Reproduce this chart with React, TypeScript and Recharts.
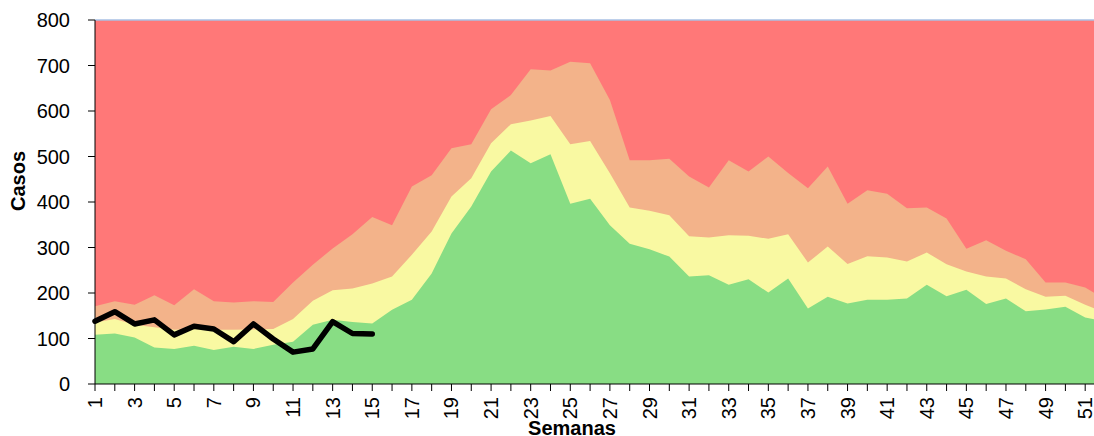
import React from "react";
import {
  Area,
  CartesianGrid,
  ComposedChart,
  Line,
  ReferenceLine,
  XAxis,
  YAxis,
} from "recharts";

// upper limit of each zone of the endemic channel, per epidemiological week
const weeks = Array.from({ length: 52 }, (_, i) => i + 1);
const exito = [
  108, 111, 102, 80, 77, 84, 75, 82, 77, 86, 93, 130, 141, 136, 133, 163, 185,
  243, 331, 390, 467, 513, 485, 505, 396, 407, 349, 308, 296, 280, 236, 239,
  218, 230, 201, 232, 166, 192, 177, 185, 185, 188, 218, 193, 207, 176, 188,
  160, 164, 170, 146, 138,
];
const seguridad = [
  135, 143, 130, 125, 119, 121, 119, 119, 120, 121, 143, 183, 206, 210, 221,
  236, 284, 335, 412, 452, 529, 571, 579, 589, 527, 534, 463, 388, 381, 371,
  325, 322, 327, 326, 319, 329, 267, 302, 264, 281, 278, 269, 289, 263, 247,
  236, 232, 208, 192, 194, 174, 157,
];
const alerta = [
  171, 182, 174, 195, 173, 208, 182, 179, 182, 180, 223, 262, 298, 329, 367,
  349, 434, 459, 518, 527, 604, 635, 692, 689, 708, 705, 624, 492, 492, 495,
  456, 432, 492, 467, 500, 464, 430, 478, 396, 426, 418, 386, 388, 364, 297,
  316, 293, 274, 223, 223, 212, 186,
];
// casos del año en curso (semanas 1-15)
const actual = [138, 159, 132, 141, 108, 127, 121, 93, 132, 99, 70, 77, 137, 111, 110];
const yTicks = [0, 100, 200, 300, 400, 500, 600, 700, 800];

const data = weeks.map((w, i) => ({
  week: w,
  exito: exito[i],
  seguridad: seguridad[i],
  alerta: alerta[i],
  actual: i < actual.length ? actual[i] : null,
}));

const FONT = "'Liberation Sans', Arial, sans-serif";

function WeekTick(props: any) {
  const { x, y, payload } = props;
  if (payload.value % 2 === 0) return <g />;
  return (
    <text
      x={x}
      y={y}
      dy="0.35em"
      transform={`rotate(-90, ${x}, ${y})`}
      textAnchor="end"
      fontSize={20}
      fontFamily={FONT}
      fill="#000"
    >
      {payload.value}
    </text>
  );
}

export default function App() {
  return (
    <div
      style={{
        position: "absolute",
        left: 0,
        top: 0,
        width: 1094,
        height: 436,
        overflow: "hidden",
        background: "#fff",
      }}
    >
      <ComposedChart
        width={1110}
        height={436}
        data={data}
        margin={{ top: 20, right: 5, left: 0, bottom: 0 }}
      >
        <CartesianGrid
          fill="#FF7878"
          fillOpacity={1}
          horizontal={false}
          vertical={false}
          stroke="none"
        />
        <Area
          type="linear"
          dataKey="alerta"
          stroke="none"
          fill="#F3B38A"
          fillOpacity={1}
          isAnimationActive={false}
        />
        <Area
          type="linear"
          dataKey="seguridad"
          stroke="none"
          fill="#F9F9A2"
          fillOpacity={1}
          isAnimationActive={false}
        />
        <Area
          type="linear"
          dataKey="exito"
          stroke="none"
          fill="#88DD84"
          fillOpacity={1}
          isAnimationActive={false}
        />
        <Line
          type="linear"
          dataKey="actual"
          stroke="#000"
          strokeWidth={5.5}
          strokeLinecap="round"
          strokeLinejoin="round"
          dot={false}
          activeDot={false}
          connectNulls={false}
          isAnimationActive={false}
        />
        <ReferenceLine y={800} stroke="#A9C0E4" strokeWidth={1.5} />
        <XAxis
          dataKey="week"
          interval={0}
          height={52}
          tickSize={7}
          tickMargin={6}
          axisLine={{ stroke: "#000" }}
          tickLine={{ stroke: "#000" }}
          tick={<WeekTick />}
          label={{
            content: () => (
              <text
                x={572}
                y={435}
                textAnchor="middle"
                fontSize={20}
                fontWeight="bold"
                fontFamily={FONT}
                fill="#000"
              >
                Semanas
              </text>
            ),
          }}
        />
        <YAxis
          width={95}
          domain={[0, 800]}
          ticks={yTicks}
          allowDataOverflow
          tickSize={7}
          tickMargin={18}
          axisLine={{ stroke: "#000" }}
          tickLine={{ stroke: "#000" }}
          tick={{ fontSize: 20, fontFamily: FONT, fill: "#000" }}
          label={{
            content: () => (
              <text
                transform="translate(25, 181) rotate(-90)"
                textAnchor="middle"
                fontSize={20}
                fontWeight="bold"
                fontFamily={FONT}
                fill="#000"
              >
                Casos
              </text>
            ),
          }}
        />
      </ComposedChart>
    </div>
  );
}
